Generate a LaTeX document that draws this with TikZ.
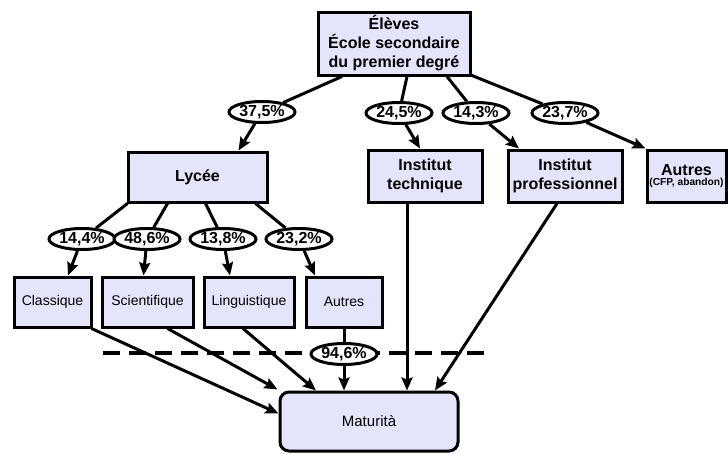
\documentclass[tikz,border=0pt]{standalone}
\usepackage{fontspec}
\setmainfont{Liberation Sans}
\usetikzlibrary{arrows.meta,shapes.geometric}
\definecolor{boxfill}{RGB}{228,228,250}
\begin{document}
\begin{tikzpicture}[x=1pt,y=-1pt,
  box/.style={draw=black,line width=3pt,fill=boxfill,rectangle,inner sep=0pt,align=center,minimum height=50pt},
  bigtxt/.style={font=\fontsize{16}{19}\selectfont\bfseries},
  smalltxt/.style={font=\fontsize{14}{16}\selectfont},
  pct/.style={draw=black,line width=3pt,fill=white,ellipse,inner sep=-4pt,minimum width=66pt,minimum height=21pt,font=\fontsize{16}{16}\selectfont\bfseries},
  conn/.style={line width=3pt},
  arr/.style={line width=3pt,-{Stealth[length=13pt,width=11pt,inset=2pt]}}]
\useasboundingbox (0,0) rectangle (728,453);
\coordinate (d1) at (103,353);
\coordinate (d2) at (485,353);
\draw[line width=4pt,dash pattern=on 17pt off 9pt] (d1) -- (d2);
% boxes
\node[box,bigtxt,minimum width=152pt,minimum height=63pt] (eleves) at (394,43.5) {Élèves\\École secondaire\\du premier degré};
\node[box,bigtxt,minimum width=139pt] (lycee) at (197.5,177) {Lycée};
\node[box,bigtxt,minimum width=114pt,minimum height=52pt] (tech) at (425,176) {Institut\\technique};
\node[box,bigtxt,minimum width=114pt,minimum height=52pt] (prof) at (565,176) {Institut\\professionnel};
\node[box,minimum width=79pt,minimum height=52pt] (autresA) at (686.5,176) {{\fontsize{16}{17}\selectfont\bfseries Autres}\\[-2pt]{\fontsize{10.2}{11}\selectfont\bfseries (CFP, abandon)}};
\node[box,smalltxt,minimum width=77pt] (classique) at (52.5,302) {Classique};
\node[box,smalltxt,minimum width=91pt] (scient) at (147.5,302) {Scientifique};
\node[box,smalltxt,minimum width=90pt] (ling) at (249,302) {Linguistique};
\node[box,smalltxt,minimum width=76pt] (autresL) at (344,302) {Autres};
\node[box,smalltxt,rounded corners=9pt,minimum width=178pt,minimum height=59pt,font=\fontsize{15}{17}\selectfont] (mat) at (369,421.5) {Maturità};
% percentages
\node[pct] (e1) at (262,112) {37,5\%};
\node[pct] (e2) at (399,113) {24,5\%};
\node[pct] (e3) at (476,113) {14,3\%};
\node[pct] (e4) at (565,113) {23,7\%};
\node[pct] (l1) at (82,239) {14,4\%};
\node[pct] (l2) at (147,239) {48,6\%};
\node[pct] (l3) at (223,239) {13,8\%};
\node[pct] (l4) at (299,239) {23,2\%};
\node[pct] (e5) at (344,354) {94,6\%};
% connectors from top
\draw[conn] ([xshift=-52pt]eleves.south) -- (e1);
\draw[arr] (e1) -- ([xshift=41pt]lycee.north);
\draw[conn] ([xshift=13pt]eleves.south) -- (e2);
\draw[arr] (e2) -- ([xshift=-5pt]tech.north);
\draw[conn] ([xshift=53pt]eleves.south) -- (e3);
\draw[arr] (e3) -- ([xshift=-46pt]prof.north);
\draw[conn] ([xshift=-2pt,yshift=2pt]eleves.south east) -- (e4);
\draw[arr] (e4) -- (autresA.north west);
% lycee
\draw[conn] ([xshift=1pt]lycee.south west) -- (l1);
\draw[arr] (l1) -- ([xshift=15.5pt]classique.north);
\draw[conn] ([xshift=-30pt]lycee.south) -- (l2);
\draw[arr] (l2) -- ([xshift=-4pt]scient.north);
\draw[conn] ([xshift=8pt]lycee.south) -- (l3);
\draw[arr] (l3) -- ([xshift=-19pt]ling.north);
\draw[conn] ([xshift=58pt]lycee.south) -- (l4);
\draw[arr] (l4) -- ([xshift=-29pt]autresL.north);
% to maturita
\draw[arr] ([xshift=-1pt]classique.south east) -- ([yshift=8pt]mat.west);
\draw[arr] ([xshift=20pt]scient.south) -- ([xshift=-1pt,yshift=1pt]mat.north west);
\draw[arr] ([xshift=-6pt]ling.south) -- ([xshift=-53pt]mat.north);
\draw[conn] (autresL.south) -- (e5);
\draw[arr] (e5) -- (e5 |- mat.north);
\draw[arr] ([xshift=-18pt]tech.south) -- ([xshift=-18pt]tech.south |- mat.north);
\draw[arr] ([xshift=-8pt]prof.south) -- ([xshift=66pt]mat.north);
\end{tikzpicture}
\end{document}
